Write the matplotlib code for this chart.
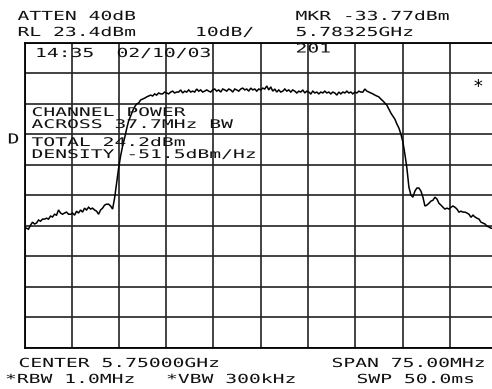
import numpy as np
import matplotlib
matplotlib.use("Agg")
import matplotlib.pyplot as plt
from matplotlib import patheffects
from matplotlib.transforms import Affine2D

# ---------------- data ----------------
center_ghz = 5.75
span_ghz = 0.075
ref_level_dbm = 23.4
db_per_div = 10

# trace amplitudes (dBm) at evenly spaced sweep points across the span
levels_dbm = [
    -37.0, -37.4, -37.7, -36.4, -35.4, -36.0, -35.7, -34.7, -35.1, -34.4,
    -34.4, -34.1, -34.4, -33.4, -33.7, -32.8, -33.1, -31.4, -32.4, -32.8,
    -32.4, -32.1, -32.8, -32.8, -32.4, -33.1, -31.8, -32.4, -31.4, -32.1,
    -30.8, -31.4, -30.5, -31.1, -30.8, -31.4, -31.8, -32.8, -31.4, -30.8,
    -29.8, -29.5, -29.5, -30.1, -31.1, -27.5, -22.6, -17.7, -13.7, -10.4,
    -7.8, -4.8, -2.2, -0.6, 1.1, 2.4, 3.4, 3.7, 4.7, 5.0,
    5.3, 5.7, 6.0, 6.3, 6.0, 6.7, 6.3, 7.0, 6.7, 6.7,
    7.3, 7.0, 6.7, 7.3, 7.6, 7.0, 7.3, 7.3, 8.0, 7.0,
    7.6, 7.3, 8.0, 7.3, 7.6, 7.3, 8.3, 7.6, 8.0, 7.3,
    7.6, 8.0, 7.6, 7.3, 8.0, 8.3, 7.6, 8.0, 7.3, 8.3,
    8.0, 7.6, 8.3, 8.0, 7.3, 8.3, 8.0, 7.6, 8.3, 8.6,
    8.0, 8.3, 7.6, 8.6, 8.0, 8.3, 7.6, 8.3, 8.0, 8.6,
    8.3, 9.3, 8.0, 9.0, 7.6, 8.3, 7.3, 8.0, 7.3, 7.6,
    8.3, 7.6, 8.0, 7.3, 8.0, 7.6, 7.0, 7.6, 7.3, 8.0,
    7.0, 7.6, 7.3, 6.7, 7.6, 7.0, 7.3, 6.7, 7.3, 7.0,
    7.6, 7.0, 7.3, 6.7, 7.3, 7.0, 6.3, 7.3, 6.7, 7.3,
    7.0, 7.6, 7.0, 7.3, 6.7, 7.3, 7.0, 7.6, 7.3, 7.3,
    8.3, 7.6, 7.3, 7.0, 6.7, 6.3, 6.0, 5.7, 5.0, 4.4,
    3.7, 3.0, 1.7, 0.4, -0.6, -1.6, -3.2, -4.5, -6.5, -9.1,
    -13.1, -17.7, -23.9, -26.5, -27.2, -25.2, -24.2, -24.2, -25.2, -27.2,
    -30.1, -29.8, -29.2, -28.5, -28.2, -27.2, -27.8, -29.2, -29.8, -30.5,
    -31.1, -30.8, -31.1, -30.5, -30.1, -30.5, -31.1, -32.1, -31.8, -32.1,
    -32.1, -32.4, -32.8, -33.8, -33.1, -33.7, -34.1, -34.4, -35.4, -35.7,
    -36.0, -36.7, -37.0, -37.4, -37.4, -37.7, -37.7,
]

header_lines = ["ATTEN 40dB", "RL 23.4dBm", "10dB/", "MKR -33.77dBm", "5.78325GHz", "201",
                "14:35", "02/10/03"]
channel_lines = ["CHANNEL POWER", "ACROSS 37.7MHz BW", "TOTAL 24.2dBm", "DENSITY -51.5dBm/Hz"]
footer_lines = ["CENTER 5.75000GHz", "SPAN 75.00MHz", "*RBW 1.0MHz", "*VBW 300kHz", "SWP 50.0ms"]

# ---------------- figure ----------------
W, H = 492, 389
fig = plt.figure(figsize=(W / 100, H / 100), dpi=100)
fig.patch.set_facecolor("white")

ax_l, ax_t, ax_w, ax_h = 24.5, 43.0, 472.5, 304.7
ax = fig.add_axes([ax_l / W, 1 - (ax_t + ax_h) / H, ax_w / W, ax_h / H])

f0 = center_ghz - span_ghz / 2
f1 = center_ghz + span_ghz / 2
freqs = np.linspace(f0, f1, len(levels_dbm))
ax.plot(freqs, levels_dbm, color="black", lw=1.1, solid_joinstyle="miter")

ax.set_xlim(f0, f1)
ax.set_ylim(ref_level_dbm - 10 * db_per_div, ref_level_dbm)
ax.set_xticks(np.linspace(f0, f1, 11))
ax.set_yticks(np.linspace(ref_level_dbm - 10 * db_per_div, ref_level_dbm, 11))
ax.grid(True, color="#222222", lw=1.2)
ax.tick_params(length=0, labelbottom=False, labelleft=False)
for s in ax.spines.values():
    s.set_linewidth(1.3)
    s.set_color("black")
ax.set_facecolor("white")


class Stretch(patheffects.AbstractPathEffect):
    def __init__(self, sx, x0, y0):
        super().__init__()
        self.sx, self.x0, self.y0 = sx, x0, y0

    def draw_path(self, renderer, gc, tpath, affine, rgbFace=None):
        aff = affine + Affine2D().translate(-self.x0, -self.y0).scale(self.sx, 1.0).translate(self.x0, self.y0)
        renderer.draw_path(gc, tpath, aff, rgbFace)


ADV = 11.85


def put(s, x_left, base, size=9.0, ha="left"):
    em_px = size * 100 / 72
    sx = ADV / (0.602 * em_px)
    fig.text(x_left / W, 1 - base / H, s, ha=ha, va="baseline", fontsize=size,
             family="DejaVu Sans Mono", color="#111111",
             path_effects=[Stretch(sx, x_left, H - base)])


put(header_lines[0], 17.5, 20)
put(header_lines[1], 17.5, 36)
put(header_lines[2], 195.0, 36)
put(header_lines[3], 295.5, 20)
put(header_lines[4], 295.5, 36)
put(header_lines[5], 295.5, 52.5)
put(header_lines[6], 35.0, 57)
put(header_lines[7], 116.5, 57)

put(channel_lines[0], 31.5, 116, 8.6)
put(channel_lines[1], 31.5, 128, 8.6)
put(channel_lines[2], 31.5, 146, 8.6)
put(channel_lines[3], 31.5, 158, 8.6)

put(footer_lines[0], 18.5, 367)
put(footer_lines[1], 331.5, 367)
put(footer_lines[2], 5.0, 383)
put(footer_lines[3], 166.0, 383)
put(footer_lines[4], 356.5, 383)

put("D", 13.5, 143.5, 10.0, ha="center")
fig.text(478 / W, 1 - 87 / H, "*", ha="center", va="center", fontsize=13,
         family="DejaVu Sans Mono", color="black")

fig.savefig("out.png", dpi=100, facecolor="white")
